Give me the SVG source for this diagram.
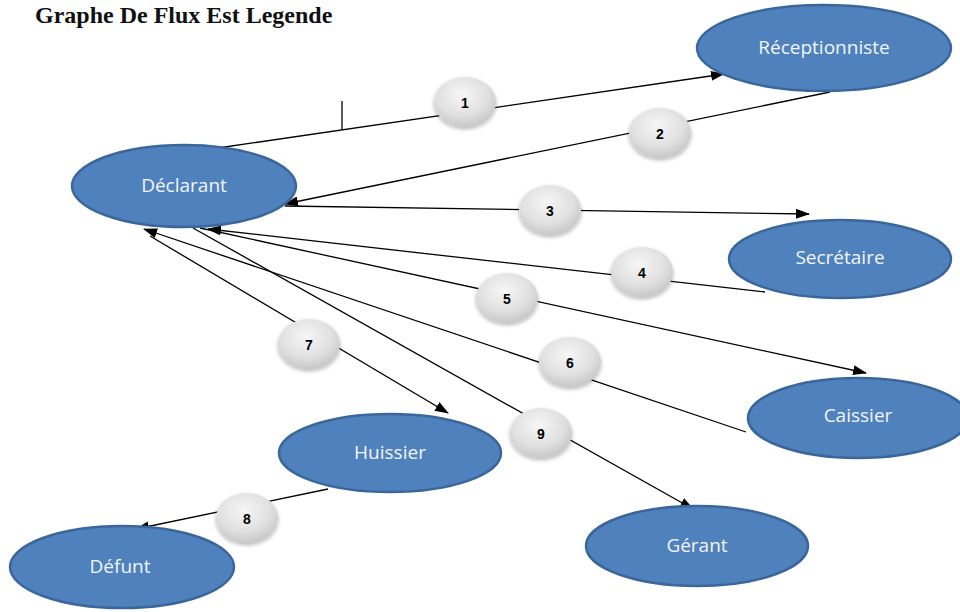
<svg xmlns="http://www.w3.org/2000/svg" width="960" height="612" viewBox="0 0 960 612">
<defs>
<style>
.node ellipse{fill:#4f81bd;stroke:#3a679b;stroke-width:2.5}
.node text{font-family:"Open Sans","Liberation Sans",sans-serif;font-size:19px;fill:#f2f5fa;text-anchor:middle}
.edge{stroke:#000;stroke-width:1.3;fill:none}
.lbl ellipse{fill:url(#gray);filter:url(#sh)}
.lbl text{font-family:"Liberation Sans",Arial,sans-serif;font-size:14px;font-weight:bold;fill:#000;text-anchor:middle}
.title{font-family:"Liberation Serif","Times New Roman",serif;font-size:24px;font-weight:bold;fill:#111}
</style>
<radialGradient id="gray" cx="0.45" cy="0.35" r="0.7">
<stop offset="0" stop-color="#f6f6f6"/>
<stop offset="0.6" stop-color="#e0e0e0"/>
<stop offset="1" stop-color="#c2c2c2"/>
</radialGradient>
<filter id="sh" x="-30%" y="-30%" width="160%" height="170%">
<feGaussianBlur in="SourceAlpha" stdDeviation="2"/>
<feOffset dx="0" dy="2" result="b"/>
<feComponentTransfer><feFuncA type="linear" slope="0.3"/></feComponentTransfer>
<feMerge><feMergeNode/><feMergeNode in="SourceGraphic"/></feMerge>
</filter>
<marker id="ah" viewBox="0 0 14 10" refX="13" refY="5" markerWidth="14" markerHeight="10" markerUnits="userSpaceOnUse" orient="auto">
<path d="M0,0 L14,5 L0,10 Z" fill="#000"/>
</marker>
</defs>

<text class="title" x="35" y="23">Graphe De Flux Est Legende</text>

<g id="connectors">
<line class="edge" x1="218" y1="148" x2="724" y2="74" marker-end="url(#ah)"/>
<line class="edge" x1="342" y1="101" x2="342" y2="130"/>
<line class="edge" x1="830" y1="92" x2="285" y2="204" marker-end="url(#ah)"/>
<line class="edge" x1="285" y1="206" x2="809" y2="214" marker-end="url(#ah)"/>
<line class="edge" x1="765" y1="292" x2="208" y2="229" marker-end="url(#ah)"/>
<line class="edge" x1="200" y1="228" x2="866" y2="373" marker-end="url(#ah)"/>
<line class="edge" x1="746" y1="432" x2="144" y2="229" marker-end="url(#ah)"/>
<line class="edge" x1="150" y1="236" x2="448" y2="413" marker-end="url(#ah)"/>
<line class="edge" x1="193" y1="228" x2="693" y2="509" marker-end="url(#ah)"/>
<line class="edge" x1="328" y1="489" x2="136" y2="529" marker-end="url(#ah)"/>
</g>

<g id="node-receptionniste" class="node"><ellipse cx="824" cy="48" rx="127" ry="43"/><text x="824" y="54">Réceptionniste</text></g>
<g id="node-declarant" class="node"><ellipse cx="184" cy="186" rx="112" ry="41"/><text x="184" y="192">Déclarant</text></g>
<g id="node-secretaire" class="node"><ellipse cx="840" cy="259" rx="111" ry="39"/><text x="840" y="264">Secrétaire</text></g>
<g id="node-caissier" class="node"><ellipse cx="858" cy="418" rx="110" ry="40"/><text x="858" y="422">Caissier</text></g>
<g id="node-huissier" class="node"><ellipse cx="390" cy="453" rx="111" ry="39"/><text x="390" y="459">Huissier</text></g>
<g id="node-defunt" class="node"><ellipse cx="122" cy="567" rx="112" ry="41"/><text x="120" y="573">Défunt</text></g>
<g id="node-gerant" class="node"><ellipse cx="697" cy="546" rx="111" ry="40"/><text x="697" y="552">Gérant</text></g>

<g id="edge-labels">
<g class="lbl"><ellipse cx="465" cy="102" rx="31" ry="25"/><text x="465" y="108">1</text></g>
<g class="lbl"><ellipse cx="660" cy="133" rx="31" ry="25"/><text x="660" y="139">2</text></g>
<g class="lbl"><ellipse cx="550" cy="210" rx="31" ry="25"/><text x="550" y="216">3</text></g>
<g class="lbl"><ellipse cx="642" cy="272" rx="31" ry="25"/><text x="642" y="278">4</text></g>
<g class="lbl"><ellipse cx="507" cy="298" rx="31" ry="25"/><text x="507" y="304">5</text></g>
<g class="lbl"><ellipse cx="570" cy="362" rx="31" ry="25"/><text x="570" y="368">6</text></g>
<g class="lbl"><ellipse cx="309" cy="344" rx="31" ry="25"/><text x="309" y="350">7</text></g>
<g class="lbl"><ellipse cx="247" cy="518" rx="31" ry="25"/><text x="247" y="524">8</text></g>
<g class="lbl"><ellipse cx="541" cy="433" rx="31" ry="25"/><text x="541" y="439">9</text></g>
</g>
</svg>
